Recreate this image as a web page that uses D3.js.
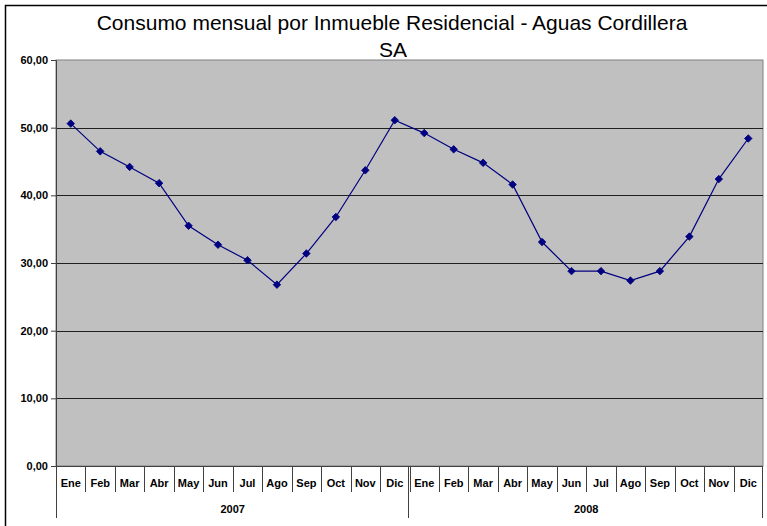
<!DOCTYPE html>
<html>
<head>
<meta charset="utf-8">
<script src="https://cdn.jsdelivr.net/npm/d3@7"></script>
<style>
  html, body { margin: 0; padding: 0; background: #fff; }
  svg { display: block; font-family: "Liberation Sans", Arial, sans-serif; }
</style>
</head>
<body>
<div id="chart"></div>
<script>
// Consumo mensual por inmueble residencial, 2007-2008
const years = ["2007", "2008"];
const months = ["Ene", "Feb", "Mar", "Abr", "May", "Jun", "Jul", "Ago", "Sep", "Oct", "Nov", "Dic"];
const values2007 = [50.6, 46.5, 44.2, 41.8, 35.5, 32.7, 30.4, 26.8, 31.4, 36.8, 43.7, 51.1];
const values2008 = [49.2, 46.8, 44.8, 41.6, 33.1, 28.8, 28.8, 27.4, 28.8, 33.9, 42.4, 48.4];
const yTicks = [0, 10, 20, 30, 40, 50, 60];

const width = 767, height = 526;
const margin = { top: 60, right: 4, bottom: 60, left: 56 };

const series = [];
years.forEach((yr, i) => {
  const vals = i === 0 ? values2007 : values2008;
  months.forEach((m, j) => series.push({ key: yr + "-" + m, year: yr, month: m, value: vals[j] }));
});

const svg = d3.select("#chart").append("svg")
  .attr("width", width)
  .attr("height", height);

// outer chart frame (clipped at right/bottom like the original)
svg.append("rect")
  .attr("x", 5.5).attr("y", 5.5)
  .attr("width", width + 10).attr("height", height + 10)
  .attr("fill", "#fff")
  .attr("stroke", "#000")
  .attr("stroke-width", 1.5);

const x0 = margin.left, x1 = width - margin.right;
const y0 = height - margin.bottom, y1 = margin.top;

const x = d3.scaleBand().domain(series.map(d => d.key)).range([x0, x1]);
const y = d3.scaleLinear().domain([0, 60]).range([y0, y1]);

// title
const title = svg.append("text")
  .attr("text-anchor", "middle")
  .attr("font-size", 21)
  .attr("fill", "#000");
title.append("tspan").attr("x", 392).attr("y", 30).text("Consumo mensual por Inmueble Residencial - Aguas Cordillera");
title.append("tspan").attr("x", 393).attr("y", 57).text("SA");

// plot background
svg.append("rect")
  .attr("x", x0).attr("y", y1)
  .attr("width", x1 - x0).attr("height", y0 - y1)
  .attr("fill", "#c0c0c0")
  .attr("stroke", "#808080")
  .attr("stroke-width", 1);

// gridlines
svg.append("g")
  .selectAll("line")
  .data(yTicks.filter(t => t > 0 && t < 60))
  .join("line")
  .attr("x1", x0).attr("x2", x1)
  .attr("y1", d => Math.round(y(d)) + 0.5)
  .attr("y2", d => Math.round(y(d)) + 0.5)
  .attr("stroke", "#202020")
  .attr("stroke-width", 1);

// y axis
const yAxis = svg.append("g")
  .attr("transform", `translate(${x0},0)`)
  .call(d3.axisLeft(y).tickValues(yTicks).tickSize(5).tickPadding(3)
    .tickFormat(d => d3.format(".2f")(d).replace(".", ",")));
yAxis.select(".domain").attr("stroke", "#404040");
yAxis.selectAll(".tick line").attr("stroke", "#404040");
yAxis.selectAll("text")
  .attr("font-family", "Liberation Sans, Arial, sans-serif")
  .attr("font-size", 11)
  .attr("font-weight", "bold")
  .attr("fill", "#000");

// x axis baseline
svg.append("line")
  .attr("x1", x0).attr("x2", x1)
  .attr("y1", y0 + 0.5).attr("y2", y0 + 0.5)
  .attr("stroke", "#404040");

// month separators + labels
const monthAxis = svg.append("g");
monthAxis.selectAll("line")
  .data(series)
  .join("line")
  .attr("x1", d => Math.round(x(d.key)) + 0.5)
  .attr("x2", d => Math.round(x(d.key)) + 0.5)
  .attr("y1", y0).attr("y2", y0 + 26)
  .attr("stroke", "#404040");
monthAxis.append("line")
  .attr("x1", x1 - 0.5).attr("x2", x1 - 0.5)
  .attr("y1", y0).attr("y2", y0 + 26)
  .attr("stroke", "#404040");
monthAxis.selectAll("text")
  .data(series)
  .join("text")
  .attr("x", d => x(d.key) + x.bandwidth() / 2)
  .attr("y", y0 + 21)
  .attr("text-anchor", "middle")
  .attr("font-size", 11)
  .attr("font-weight", "bold")
  .text(d => d.month);

// year groups
const yearAxis = svg.append("g");
const yearBounds = years.map(yr => {
  const keys = series.filter(d => d.year === yr).map(d => d.key);
  return { year: yr, start: x(keys[0]), end: x(keys[keys.length - 1]) + x.bandwidth() };
});
yearAxis.selectAll("line")
  .data([yearBounds[0].start, yearBounds[0].end, yearBounds[1].end])
  .join("line")
  .attr("x1", d => Math.round(d) - 0.5 + (d === x0 ? 1 : 0))
  .attr("x2", d => Math.round(d) - 0.5 + (d === x0 ? 1 : 0))
  .attr("y1", y0).attr("y2", y0 + 52)
  .attr("stroke", "#404040");
yearAxis.selectAll("text")
  .data(yearBounds)
  .join("text")
  .attr("x", d => (d.start + d.end) / 2)
  .attr("y", y0 + 47)
  .attr("text-anchor", "middle")
  .attr("font-size", 11)
  .attr("font-weight", "bold")
  .text(d => d.year);

// line + markers
const cx = d => x(d.key) + x.bandwidth() / 2;
svg.append("path")
  .datum(series)
  .attr("fill", "none")
  .attr("stroke", "#000080")
  .attr("stroke-width", 1.2)
  .attr("d", d3.line().x(cx).y(d => y(d.value)));

svg.append("g")
  .selectAll("path")
  .data(series)
  .join("path")
  .attr("transform", d => `translate(${cx(d)},${y(d.value)}) rotate(45)`)
  .attr("d", d3.symbol(d3.symbolSquare, 28))
  .attr("fill", "#000080")
  .attr("stroke", "#000080")
  .attr("stroke-width", 0.8);
</script>
</body>
</html>
